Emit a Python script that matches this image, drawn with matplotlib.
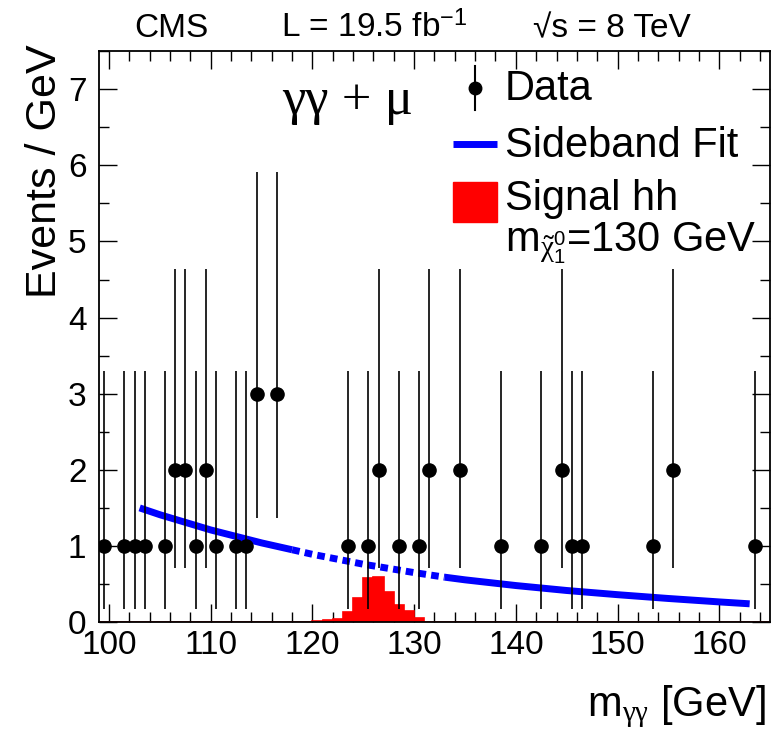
import numpy as np
import matplotlib
matplotlib.use("Agg")
from matplotlib import pyplot as plt
from matplotlib.patches import Rectangle
from matplotlib.lines import Line2D

plt.rcParams['font.family'] = ['Liberation Sans', 'DejaVu Sans']
plt.rcParams['mathtext.fontset'] = 'custom'
plt.rcParams['mathtext.rm'] = 'Liberation Sans'
plt.rcParams['mathtext.it'] = 'Liberation Serif'
plt.rcParams['mathtext.bf'] = 'Liberation Sans:bold'

# data: 1 GeV bins, events per bin
mass = [99.5, 101.5, 102.5, 103.5, 105.5, 106.5, 107.5, 108.5, 109.5, 110.5,
        112.5, 113.5, 114.5, 116.5, 123.5, 125.5, 126.5, 128.5, 130.5, 131.5,
        134.5, 138.5, 142.5, 144.5, 145.5, 146.5, 153.5, 155.5, 163.5]
counts = [1, 1, 1, 1, 1, 2, 2, 1, 2, 1,
          1, 1, 3, 3, 1, 1, 2, 1, 1, 2,
          2, 1, 1, 2, 1, 1, 1, 2, 1]
# Poisson (Garwood) interval edges for n = 1, 2, 3
pois_lo = {1: 0.173, 2: 0.708, 3: 1.367}
pois_hi = {1: 3.300, 2: 4.638, 3: 5.918}

# sideband fit
fit_x = [103, 105, 110, 115, 118, 120, 125, 130, 133, 135, 140, 145, 150, 155, 160, 163]
fit_y = [1.50, 1.41, 1.21, 1.04, 0.95, 0.89, 0.76, 0.65, 0.59, 0.555, 0.48, 0.415, 0.36, 0.31, 0.265, 0.24]
blind_lo, blind_hi = 118, 133

# signal hh, m_chi = 130 GeV
sig_low_edges = [120, 121, 122, 123, 124, 125, 126, 127, 128, 129, 130]
sig_vals = [0.01, 0.025, 0.035, 0.135, 0.31, 0.575, 0.59, 0.40, 0.22, 0.14, 0.055]

fig = plt.figure(figsize=(7.77, 7.31), dpi=100)
ax = fig.add_axes([0.1274, 0.149, 0.8636, 0.781])

# signal histogram across full range (red baseline like ROOT)
edges = np.arange(99, 166, 1)
vals = np.zeros(len(edges) - 1)
for e, v in zip(sig_low_edges, sig_vals):
    vals[e - 99] = v
ax.stairs(vals, edges, fill=True, color='red', zorder=2)
ax.stairs(vals, edges, color='red', lw=1.2, zorder=2)

# sideband fit
fx = np.array(fit_x, dtype=float)
fy = np.array(fit_y)
m1 = fx <= blind_lo
m2 = (fx >= blind_lo) & (fx <= blind_hi)
m3 = fx >= blind_hi
ax.plot(fx[m1], fy[m1], color='blue', lw=5, solid_capstyle='butt', zorder=3)
ax.plot(fx[m2], fy[m2], color='blue', lw=5, ls=(0, (1.1, 0.75)), dash_capstyle='butt', zorder=3)
ax.plot(fx[m3], fy[m3], color='blue', lw=5, solid_capstyle='butt', zorder=3)

# data
n = np.array(counts)
lo = np.array([c - pois_lo[c] for c in counts])
hi = np.array([pois_hi[c] - c for c in counts])
ax.errorbar(mass, n, yerr=[lo, hi], fmt='o', color='black', ms=9.5,
            elinewidth=1.2, capsize=0, zorder=4)

ax.set_xlim(99, 165)
ax.set_ylim(0, 7.5)
ax.set_xticks(np.arange(100, 161, 10))
ax.set_xticks(np.arange(100, 165, 2), minor=True)
ax.set_yticks(np.arange(0, 8, 1))
ax.set_yticks(np.arange(0, 7.6, 0.5), minor=True)
ax.tick_params(which='both', direction='in', top=True, right=True, width=1.0,
               labelsize=24)
ax.tick_params(which='major', length=13, pad=6)
ax.tick_params(axis='y', which='major', pad=9)
ax.tick_params(which='minor', length=7)
for s in ax.spines.values():
    s.set_linewidth(1.3)

# axis titles
fig.text(45 / 777, 1 - 44 / 731, 'Events / GeV', rotation=90, ha='center', va='top', fontsize=31)
fig.text(766 / 777, 1 - 716 / 731, r'm$_{\gamma\gamma}$ [GeV]', ha='right', va='baseline', fontsize=30)

# header
fig.text(171 / 777, 1 - 37 / 731, 'CMS', ha='center', va='baseline', fontsize=24)
fig.text(374 / 777, 1 - 37 / 731, r'L = 19.5 fb$^{\mathregular{-1}}$', ha='center', va='baseline', fontsize=24)
fig.text(612 / 777, 1 - 37 / 731, '\u221as = 8 TeV', ha='center', va='baseline', fontsize=24)

# channel label
ax.text(0.371, 0.912, '\u03b3\u03b3 + \u03bc', transform=ax.transAxes, ha='center', va='center',
        fontsize=38, family=['Liberation Serif', 'DejaVu Serif'])

# legend
T = ax.transAxes
ax.add_line(Line2D([0.560, 0.560], [0.897, 0.974], color='black', lw=1.5, transform=T))
ax.add_line(Line2D([0.560], [0.935], marker='o', ms=9, color='black', transform=T))
ax.text(0.605, 0.933, 'Data', transform=T, va='center', ha='left', fontsize=30)
ax.add_line(Line2D([0.527, 0.593], [0.837, 0.837], color='blue', lw=5, transform=T,
                   solid_capstyle='butt'))
ax.text(0.605, 0.834, 'Sideband Fit', transform=T, va='center', ha='left', fontsize=30)
ax.add_patch(Rectangle((0.527, 0.700), 0.066, 0.070, color='red', transform=T))
ax.text(0.605, 0.741, 'Signal hh', transform=T, va='center', ha='left', fontsize=30)
ax.text(0.605, 0.664, r'm$_{\tilde{\chi}_{1}^{0}}$=130 GeV', transform=T, va='center', ha='left',
        fontsize=30)

fig.savefig('out.png', dpi=100)
